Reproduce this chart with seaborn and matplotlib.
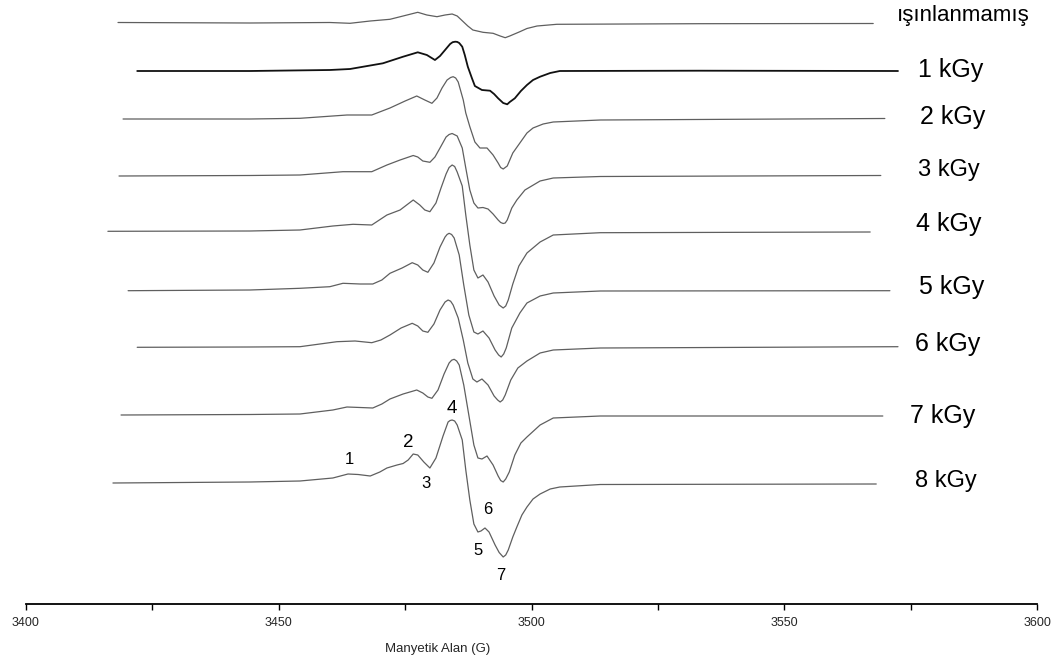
import matplotlib
matplotlib.use("Agg")
import matplotlib.pyplot as plt
import seaborn as sns
import pandas as pd

# Doses and the vertical stacking of each EPR spectrum (baseline level, a.u.)
labels = ["ışınlanmamış", "1 kGy", "2 kGy", "3 kGy", "4 kGy", "5 kGy", "6 kGy", "7 kGy", "8 kGy"]
baselines = [-23, -70.5, -119, -176, -231, -290, -346.5, -414, -482]

# Magnetic field (G) and first-derivative intensity (a.u.) for every spectrum
field_0 = [3418.2, 3444.3, 3460.1, 3464.1, 3468.1, 3472.0, 3474.6, 3477.5, 3479.3, 3481.3, 3482.9, 3484.3,
           3485.3, 3486.5, 3487.4, 3488.4, 3490.4, 3492.4, 3493.8, 3494.8, 3495.7, 3497.7, 3499.1, 3501.1,
           3505.0, 3533.3, 3567.6]
signal_0 = [0.5, 0, 0.5, -0.3, 2, 3.7, 7, 10.7, 8, 6.3, 8, 9, 7, 1.3, -3, -7, -9.3, -10.3, -13, -14.7, -13,
            -8.7, -5.5, -3, -1.3, -0.7, -0.5]

field_1 = [3422.0, 3444.3, 3460.1, 3464.1, 3470.6, 3474.6, 3477.5, 3479.3, 3480.9, 3481.9, 3482.9, 3483.9,
           3484.4, 3484.9, 3485.3, 3485.7, 3486.3, 3486.8, 3487.4, 3488.2, 3488.8, 3490.2, 3491.8, 3492.6,
           3493.4, 3494.4, 3495.2, 3495.7, 3496.7, 3497.9, 3499.1, 3500.3, 3501.7, 3503.7, 3505.6, 3533.3,
           3572.5]
signal_1 = [-0.5, -0.5, 0.5, 1.5, 7.2, 13.8, 18.2, 15.5, 10.5, 14.5, 20.5, 26.5, 28.3, 28.8, 28.6, 27.5, 23.8,
            15.5, 3.8, -7.5, -15.5, -19.5, -20.2, -23.5, -27.8, -32.5, -33.8, -31.5, -27.8, -20.5, -14.5,
            -9.5, -6.2, -2.5, -0.5, -0.2, -0.5]

field_2 = [3419.2, 3444.3, 3454.2, 3463.5, 3468.4, 3472.0, 3475.0, 3477.3, 3478.9, 3480.3, 3481.3, 3482.3,
           3483.3, 3484.0, 3484.5, 3485.0, 3485.5, 3486.5, 3487.0, 3487.8, 3488.8, 3489.8, 3491.2, 3492.4,
           3493.4, 3493.9, 3494.4, 3495.2, 3496.3, 3497.7, 3499.1, 3500.3, 3502.3, 3504.3, 3513.6, 3569.9]
signal_2 = [0, 0, 0.7, 4, 4, 11, 18, 23, 19, 15.7, 21, 31, 39, 41.5, 42.3, 41, 37, 19, 6, -7.7, -23, -29, -29,
            -36, -44, -48.5, -50, -47, -34, -24, -14, -9, -5, -3, -1, 0.5]

field_3 = [3418.4, 3444.3, 3454.2, 3462.7, 3468.4, 3471.4, 3474.0, 3476.6, 3477.5, 3478.5, 3479.9, 3480.9,
           3481.9, 3483.1, 3483.7, 3484.3, 3485.3, 3486.3, 3487.0, 3487.8, 3488.6, 3489.4, 3490.4, 3491.4,
           3492.4, 3493.4, 3493.9, 3494.4, 3494.8, 3495.2, 3496.1, 3497.1, 3498.7, 3501.7, 3504.3, 3513.6,
           3569.1]
signal_3 = [0, 0.5, 1, 4.3, 4.3, 11, 16, 20.5, 19, 15, 13.7, 19, 28, 39, 41.5, 42.5, 40, 28, 8, -14, -27, -32,
            -31.5, -33, -38, -44, -46.5, -47.5, -47, -44, -32, -24, -14, -5, -2, -0.5, 0.5]

field_4 = [3416.2, 3444.3, 3454.2, 3460.7, 3464.7, 3468.4, 3471.4, 3474.0, 3476.6, 3477.9, 3478.9, 3479.9,
           3481.1, 3482.1, 3483.1, 3483.7, 3484.3, 3484.8, 3485.3, 3486.3, 3487.0, 3487.8, 3488.6, 3489.4,
           3490.4, 3491.4, 3492.6, 3493.6, 3494.4, 3494.9, 3495.4, 3496.3, 3497.5, 3499.1, 3501.7, 3504.3,
           3513.6, 3567.0]
signal_4 = [-0.3, 0, 1, 5, 6.7, 6, 16, 21, 31, 26, 21, 19.3, 28, 43, 57, 63.5, 66, 64.5, 59, 45, 16, -14, -39,
            -47, -44, -51, -65, -74, -77, -75, -69, -53, -35, -22, -11, -4, -1.7, -1]

field_5 = [3420.2, 3444.3, 3454.2, 3460.1, 3462.7, 3466.1, 3468.6, 3470.4, 3472.0, 3474.4, 3476.4, 3477.5,
           3478.5, 3479.5, 3480.7, 3481.9, 3482.9, 3483.3, 3483.7, 3484.2, 3484.7, 3485.7, 3486.6, 3487.6,
           3488.6, 3489.4, 3490.4, 3491.6, 3492.8, 3493.5, 3494.0, 3494.5, 3495.0, 3496.1, 3497.7, 3499.1,
           3501.7, 3504.3, 3513.6, 3570.9]
signal_5 = [-0.7, 0, 1.7, 3.3, 6.7, 6, 6, 10, 16.7, 22, 27.3, 25, 20, 17.7, 27, 43, 53, 55.5, 56.7, 55.5, 52,
            35, 5, -25, -42, -44, -41, -48, -60, -65, -67, -64, -58, -38, -23, -13, -6, -3, -1, -0.7]

field_6 = [3422.0, 3444.3, 3454.2, 3461.5, 3465.1, 3468.4, 3470.2, 3472.0, 3474.2, 3476.4, 3477.5, 3478.5,
           3479.5, 3480.7, 3481.9, 3482.9, 3483.5, 3484.0, 3484.5, 3485.5, 3486.5, 3487.4, 3488.4, 3489.2,
           3490.2, 3491.4, 3492.6, 3493.3, 3493.8, 3494.3, 3494.8, 3495.9, 3497.3, 3499.1, 3501.7, 3504.3,
           3513.6, 3572.5]
signal_6 = [-0.8, -0.5, -0.2, 4.8, 5.5, 3.8, 6.5, 11.5, 18.5, 23.2, 20.5, 15.5, 14.2, 22.5, 36.5, 44.5, 46.5,
            45.3, 41.5, 28.5, 6.5, -16.5, -32.5, -35.5, -32.5, -38.5, -49.5, -53.5, -55.5, -53.5, -48.5, -33.5,
            -21.5, -14.5, -6.5, -3.5, -1.5, -0.2]

field_7 = [3418.8, 3444.3, 3454.2, 3460.7, 3463.5, 3466.1, 3468.6, 3470.4, 3472.0, 3474.6, 3477.3, 3478.5,
           3479.5, 3480.3, 3481.5, 3482.7, 3483.7, 3484.2, 3484.7, 3485.2, 3485.7, 3486.6, 3487.6, 3488.6,
           3489.4, 3490.2, 3491.2, 3492.4, 3493.4, 3493.9, 3494.4, 3494.9, 3495.6, 3496.7, 3497.9, 3499.1,
           3501.7, 3504.3, 3513.6, 3569.5]
signal_7 = [-1, -0.5, 0, 4, 7, 6.5, 6, 10, 15, 20, 24, 21, 17, 15.7, 24, 40, 51, 53.8, 54.7, 53, 49, 29, -1,
            -31, -44, -45, -42, -51, -62, -66.5, -68, -65, -58, -41, -29, -23, -11, -4, -2, -2]

field_8 = [3417.2, 3444.3, 3454.2, 3460.7, 3463.7, 3465.7, 3468.1, 3470.0, 3471.4, 3473.4, 3474.6, 3475.6,
           3476.6, 3477.5, 3478.7, 3479.9, 3481.1, 3482.5, 3483.5, 3483.9, 3484.3, 3484.8, 3485.3, 3486.3,
           3487.0, 3487.8, 3488.6, 3489.4, 3490.0, 3490.8, 3491.6, 3492.8, 3493.6, 3494.4, 3494.9, 3495.4,
           3496.3, 3497.1, 3498.1, 3499.1, 3500.3, 3501.7, 3503.7, 3505.6, 3513.6, 3568.2]
signal_8 = [-1, 0, 1, 4, 8, 7.5, 6, 10, 14, 17, 18.5, 22, 28, 27, 20, 14, 24, 46, 60, 61.5, 62, 61, 57, 42, 12,
            -18, -42, -50, -49, -46, -50, -63, -70.5, -75, -73, -68, -55, -45, -33, -25, -17, -12, -7, -5,
            -2.5, -2]

fields = [field_0, field_1, field_2, field_3, field_4, field_5, field_6, field_7, field_8]
signals = [signal_0, signal_1, signal_2, signal_3, signal_4, signal_5, signal_6, signal_7, signal_8]

# Dose label anchors (field, baseline level) to the right of each spectrum
label_field = [3572.3, 3576.5, 3576.9, 3576.5, 3576.1, 3576.7, 3575.9, 3574.9, 3575.9]
label_level = [-20.7, -77.3, -124, -176, -230.7, -294, -350.7, -422.7, -486.7]
label_size = [16, 18, 18, 17, 18, 18, 18, 18, 17]

# Numbered hyperfine lines on the 8 kGy spectrum
peak_names = ["1", "2", "3", "4", "5", "6", "7"]
peak_field = [3463.9, 3475.6, 3479.1, 3484.3, 3489.4, 3491.4, 3494.0]
peak_level = [-464, -446.7, -488.3, -413.3, -555, -514, -580]
peak_size = [12, 13.5, 12, 13.5, 12, 12, 12]

sns.set_theme(style="white")
plt.rcParams["font.family"] = ["Liberation Sans", "DejaVu Sans"]

rows = []
for name, base, fx, sy in zip(labels, baselines, fields, signals):
    for f, s in zip(fx, sy):
        rows.append({"dose": name, "field": f, "level": base + s})
df = pd.DataFrame(rows)

fig = plt.figure(figsize=(10.61, 6.68), dpi=100)
ax = fig.add_axes([26 / 1061, 64 / 668, 1011 / 1061, 604 / 668])

for name in labels:
    sub = df[df["dose"] == name]
    is_first = name == "1 kGy"
    sns.lineplot(data=sub, x="field", y="level", ax=ax, sort=False, estimator=None,
                 color="#111111" if is_first else "#5f5f5f",
                 linewidth=1.3 if is_first else 0.9)

for name, fx, lv, fs in zip(labels, label_field, label_level, label_size):
    ax.text(fx, lv, name, fontsize=fs, ha="left", va="baseline", color="black",
            family=["Liberation Sans", "DejaVu Sans"], clip_on=False)

for name, fx, lv, fs in zip(peak_names, peak_field, peak_level, peak_size):
    ax.text(fx, lv, name, fontsize=fs, ha="center", va="baseline", color="black",
            family=["Liberation Sans", "DejaVu Sans"])

ax.set_xlim(3400, 3600)
ax.set_ylim(-604, 0)
ax.set_xticks([3400, 3450, 3500, 3550, 3600])
ax.set_xticks([3425, 3475, 3525, 3575], minor=True)
ax.set_yticks([])
for side in ["top", "right", "left"]:
    ax.spines[side].set_visible(False)
ax.spines["bottom"].set_linewidth(1.3)
ax.spines["bottom"].set_color("black")
ax.tick_params(axis="x", which="both", direction="out", length=4, width=1, color="black",
               bottom=True, pad=5, labelsize=9)
ax.set_xlabel("Manyetik Alan (G)", fontsize=9.5)
ax.xaxis.set_label_coords(0.4075, -0.064)
ax.set_ylabel("")
ax.patch.set_visible(False)

fig.savefig("out.png", dpi=100, facecolor="white")
